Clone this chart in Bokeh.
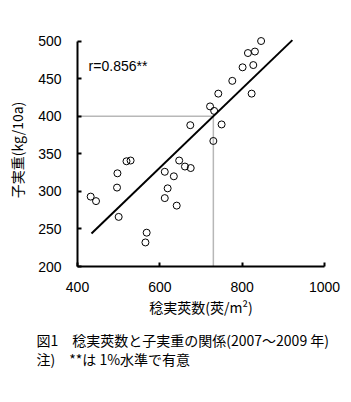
from bokeh.plotting import figure
from bokeh.models import Label, Title
from bokeh.embed import file_html
from bokeh.resources import INLINE

# data
pods = [432, 445, 496, 497, 500, 519, 529, 568, 565, 612, 612, 619, 634, 641, 647,
        661, 675, 674, 722, 732, 730, 742, 750, 776, 801, 823, 827, 814, 831, 846]
yield_ = [293, 287, 305, 324, 266, 340, 341, 245, 232, 326, 291, 304, 320, 281, 341,
          333, 331, 388, 413, 407, 367, 430, 389, 447, 465, 430, 468, 484, 486, 500]

fit_intercept = 15.3
fit_slope = 0.527
fit_x = [434, 922]
fit_y = [fit_intercept + fit_slope * x for x in fit_x]

ref_x = 730
ref_y = 400

x_ticks = [400, 600, 800, 1000]
y_ticks = [200, 250, 300, 350, 400, 450, 500]

r_text = "r=0.856**"
x_title = "稔実莢数(莢/m²)"
y_title = "子実重(kg/10a)"
caption1 = "図1\u3000稔実莢数と子実重の関係(2007～2009 年)"
caption2 = "注)\u3000**は 1%水準で有意"

JP = "Noto Sans CJK JP"
NUM = "Liberation Sans"

p = figure(width=351, height=402, x_range=(400, 1000), y_range=(200, 510),
           output_backend="svg", toolbar_location=None,
           min_border_left=77, min_border_right=27, min_border_top=33, min_border_bottom=136)
p.outline_line_color = None
p.grid.visible = False
p.background_fill_color = "white"

for ax in (p.xaxis, p.yaxis):
    ax.axis_line_width = 2
    ax.axis_line_color = "black"
    ax.major_tick_line_width = 2
    ax.major_tick_in = 4
    ax.major_tick_out = 0
    ax.minor_tick_line_color = None
    ax.major_label_text_font = NUM
    ax.major_label_text_font_size = "14px"
    ax.major_label_text_color = "black"
    ax.axis_label_text_font = JP
    ax.axis_label_text_font_size = "14px"
    ax.axis_label_text_font_style = "normal"
    ax.axis_label_text_color = "black"

p.xaxis.ticker = x_ticks
p.yaxis.ticker = y_ticks
p.xaxis.bounds = (400, 1000)
p.yaxis.bounds = (200, 500)
p.xaxis.major_label_standoff = 15
p.yaxis.major_label_standoff = 16
p.xaxis.axis_label = x_title
p.yaxis.axis_label = y_title
p.xaxis.axis_label_standoff = 2
p.yaxis.axis_label_standoff = 8

# reference dotted lines
p.line([400, ref_x], [ref_y, ref_y], line_color="#707070", line_width=1.5, line_dash="1 1")
p.line([ref_x, ref_x], [200, ref_y], line_color="#707070", line_width=1.5, line_dash="1 1")

# regression line
p.line(fit_x, fit_y, line_color="black", line_width=2)

# points
p.scatter(pods, yield_, size=7, marker="circle", fill_color=None, line_color="black", line_width=1)

p.add_layout(Label(x=427, y=467, text=r_text, text_font=NUM, text_font_size="14px",
                   text_baseline="middle", text_color="black"))

p.add_layout(Title(text=caption1 + "\n" + caption2, align="left", offset=-41, standoff=16,
                   text_font=JP, text_font_size="14px", text_font_style="normal",
                   text_line_height=0.95, text_color="black"), "below")

open("out.html", "w").write(file_html(p, INLINE))
